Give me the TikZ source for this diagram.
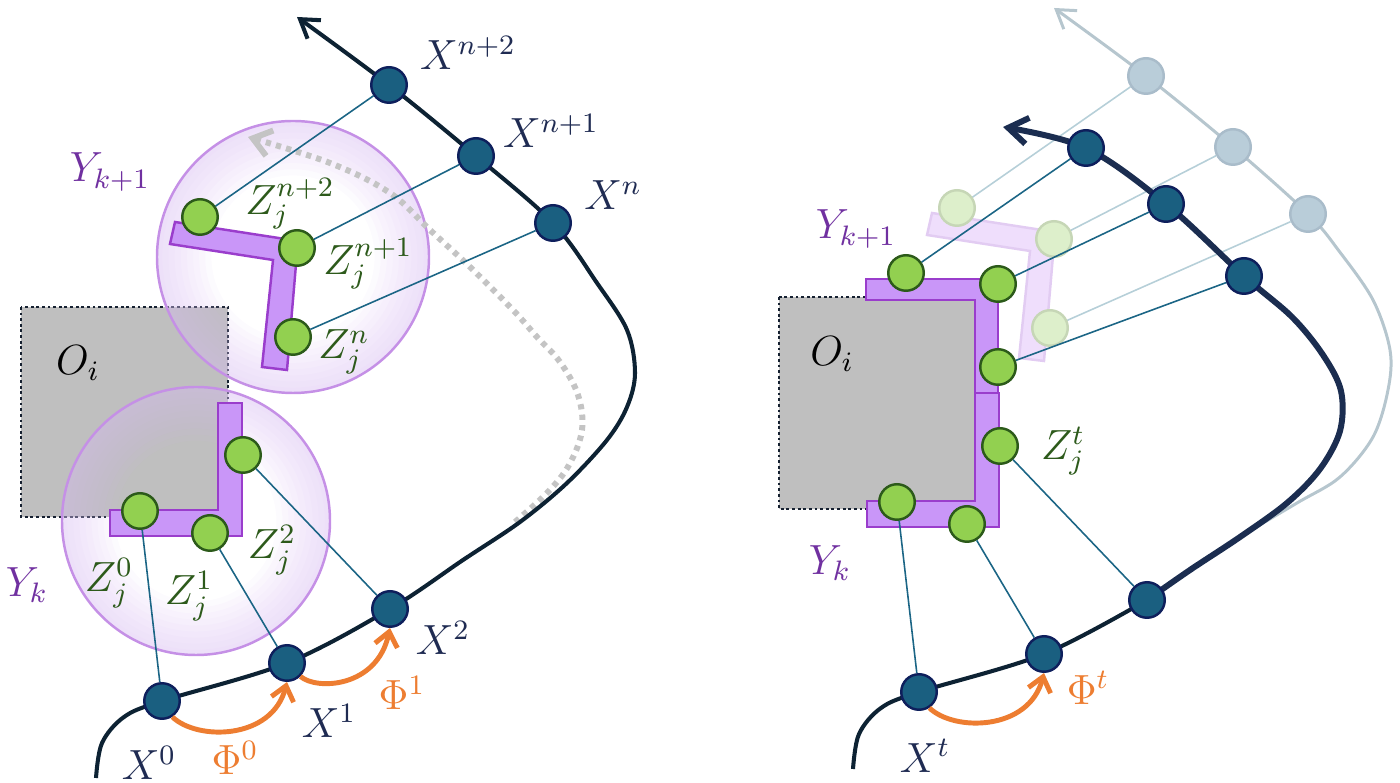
\documentclass[tikz,border=0pt]{standalone}
\usetikzlibrary{arrows.meta}
\definecolor{navy}{HTML}{0E1F5C}
\definecolor{xfill}{HTML}{1A5F80}
\definecolor{curvec}{HTML}{0D2233}
\definecolor{curvecb}{HTML}{1B2D50}
\definecolor{conncol}{HTML}{1B6585}
\definecolor{gfill}{HTML}{92D050}
\definecolor{gdraw}{HTML}{2C5A1A}
\definecolor{lfill}{HTML}{C996F8}
\definecolor{ldraw}{HTML}{9A3DCC}
\definecolor{ringc}{HTML}{C590E6}
\definecolor{ringf}{HTML}{D8BCF2}
\definecolor{obst}{HTML}{BFBFBF}
\definecolor{obstb}{HTML}{152030}
\definecolor{orng}{HTML}{ED7D31}
\definecolor{ylab}{HTML}{7030A0}
\definecolor{zlab}{HTML}{2D5A1B}
\definecolor{xlab}{HTML}{1F2B52}
\definecolor{dotg}{HTML}{C4C4C4}
\definecolor{fcurve}{HTML}{B6C6CE}
\definecolor{fxfill}{HTML}{B9CDD9}
\definecolor{fxdraw}{HTML}{A9BCCA}
\definecolor{fgfill}{HTML}{DDEFCB}
\definecolor{fgdraw}{HTML}{C6D6B6}
\definecolor{flfill}{HTML}{EFDEFC}
\definecolor{fldraw}{HTML}{E2CCF2}
\definecolor{fconn}{HTML}{B6CFD8}
\tikzset{
  xnode/.style={circle, draw=navy, fill=xfill, line width=0.7pt, minimum size=0.355cm, inner sep=0pt},
  gnode/.style={circle, draw=gdraw, fill=gfill, line width=0.7pt, minimum size=0.355cm, inner sep=0pt},
  fxnode/.style={xnode, draw=fxdraw, fill=fxfill},
  fgnode/.style={gnode, draw=fgdraw, fill=fgfill},
  connline/.style={draw=conncol, line width=0.45pt},
  fconnline/.style={draw=fconn, line width=0.45pt},
  traj/.style={draw=curvec, line width=1.15pt},
  trajb/.style={draw=curvecb, line width=1.7pt},
  ftraj/.style={draw=fcurve, line width=0.85pt},
  lshape/.style={fill=lfill, draw=ldraw, line width=0.7pt, line join=miter},
  flshape/.style={fill=flfill, draw=fldraw, line width=0.7pt},
  obstacle/.style={fill=obst, draw=obstb, line width=0.75pt, dash pattern=on 0.8pt off 0.8pt},
  ringlayer/.style={fill=ringf, fill opacity=0.065, even odd rule},
  ringline/.style={draw=ringc, line width=0.7pt},
  phiarr/.style={draw=orng, line width=1.4pt, -{Straight Barb[length=4pt,width=6.5pt]}},
  dotarr/.style={draw=dotg, line width=1.7pt, dash pattern=on 1.5pt off 1.5pt, -{Straight Barb[length=5pt,width=7.5pt]}},
  lbl/.style={font=\fontsize{12}{14}\selectfont, inner sep=0pt},
}
\begin{document}
\begin{tikzpicture}[x=0.01cm,y=-0.01cm]
\useasboundingbox (0,0) rectangle (1400,783);
% ================= LEFT PANEL =================
\coordinate (pX0) at (162,701);
\coordinate (pX1) at (287,663);
\coordinate (pX2) at (390,609);
\coordinate (pXn) at (553,223);
\coordinate (pXna) at (476,156);
\coordinate (pXnb) at (389,85);
\coordinate (tipL) at (297,17);
\coordinate (dottip) at (248,137);
\coordinate (cYa) at (293,257);
\coordinate (cY) at (196,521);
% obstacle
\draw[obstacle] (21,307) rectangle (228,517);
% circles
\foreach \f in {0.60,0.645,0.69,0.735,0.78,0.825,0.87,0.915,0.96,0.99} {
  \fill[ringlayer] (cYa) circle[radius=136] circle[radius=136*\f];
  \fill[ringlayer] (cY) circle[radius=134] circle[radius=134*\f];
}
\draw[ringline] (cYa) circle[radius=136];
\draw[ringline] (cY) circle[radius=134];
% dotted arrow
\draw[dotarr] plot[smooth, tension=0.6] coordinates {(515,522) (547,493) (569,465) (582,430) (578,395) (560,362) (537,337) (513,310) (470,267) (430,230) (390,193) (330,163) (dottip)};
% trajectory
\draw[traj, -{Straight Barb[length=5pt,width=6.5pt]}] plot[smooth, tension=0.55] coordinates {(96,778) (102,743) (124,717) (pX0) (pX1) (pX2) (463,560) (520,522) (567,483) (607,440) (627,407) (635,373) (627,330) (597,283) (pXn) (pXna) (pXnb) (tipL)};
% L shapes
\draw[lshape] (175,222) -- (298,241) -- (287,370) -- (262,367) -- (273,260) -- (170,244) -- cycle;
\draw[lshape] (218,403) -- (242,403) -- (242,536) -- (110,536) -- (110,510) -- (218,510) -- cycle;
% nodes
\node[xnode] (X0) at (pX0) {};
\node[xnode] (X1) at (pX1) {};
\node[xnode] (X2) at (pX2) {};
\node[xnode] (Xn) at (pXn) {};
\node[xnode] (Xna) at (pXna) {};
\node[xnode] (Xnb) at (pXnb) {};
\node[gnode] (Z0) at (140,511) {};
\node[gnode] (Z1) at (210,533) {};
\node[gnode] (Z2) at (243,455) {};
\node[gnode] (Zn) at (293,337) {};
\node[gnode] (Zna) at (297,248) {};
\node[gnode] (Znb) at (200,217) {};
% connectors
\draw[connline] (X0) -- (Z0);
\draw[connline] (X1) -- (Z1);
\draw[connline] (X2) -- (Z2);
\draw[connline] (Xn) -- (Zn);
\draw[connline] (Xna) -- (Zna);
\draw[connline] (Xnb) -- (Znb);
% transitions
\draw[phiarr] (X0.-57) .. controls +(25,24) and +(-15,58) .. (X1.-90);
\draw[phiarr] (X1.-45) .. controls +(16,14) and +(-13,60) .. (X2.-90);
% labels
\node[lbl, text=xlab] (lXnb) at (468,53) {$X^{n+2}$};
\node[lbl, text=xlab] (lXna) at (551,131) {$X^{n+1}$};
\node[lbl, text=xlab] (lXn) at (613,195) {$X^{n}$};
\node[lbl, text=zlab] (lZnb) at (290,204) {$Z_j^{n+2}$};
\node[lbl, text=zlab] (lZna) at (368,264) {$Z_j^{n+1}$};
\node[lbl, text=zlab] (lZn) at (344,352) {$Z_j^{n}$};
\node[lbl, text=ylab] (lYa) at (110,172) {$Y_{k+1}$};
\node[lbl] (lO) at (78,363) {$O_i$};
\node[lbl, text=ylab] (lY) at (27,585) {$Y_k$};
\node[lbl, text=zlab] (lZ0) at (109,583) {$Z_j^{0}$};
\node[lbl, text=zlab] (lZ1) at (189,596) {$Z_j^{1}$};
\node[lbl, text=zlab] (lZ2) at (272,550) {$Z_j^{2}$};
\node[lbl, text=xlab] (lX2) at (443,638) {$X^{2}$};
\node[lbl, text=orng] (lP1) at (402,693) {$\Phi^{1}$};
\node[lbl, text=xlab] (lX1) at (329,721) {$X^{1}$};
\node[lbl, text=orng] (lP0) at (235,758) {$\Phi^{0}$};
\node[lbl, text=xlab] (lX0) at (149,763) {$X^{0}$};
% ================= RIGHT PANEL =================
\begin{scope}[shift={(757,-9)}]
\coordinate (qX0) at (162,701);
\coordinate (qX1) at (287,663);
\coordinate (qX2) at (390,609);
\coordinate (qA3) at (487,285);
\coordinate (qA2) at (409,213);
\coordinate (qA1) at (329,157);
\coordinate (tipR) at (246,136);
\coordinate (fXnp) at (551,223);
\coordinate (fXnap) at (476,156);
\coordinate (fXnbp) at (389,85);
\coordinate (tipF) at (297,17);
% faded (previous) trajectory
\draw[ftraj, -{Straight Barb[length=5pt,width=6.5pt]}] plot[smooth, tension=0.55] coordinates {(qX2) (433,579) (483,546) (540,512) (583,486) (616,446) (631,399) (633,359) (616,309) (582,260) (fXnp) (fXnap) (fXnbp) (tipF)};
\node[fxnode] (fXn) at (fXnp) {};
\node[fxnode] (fXna) at (fXnap) {};
\node[fxnode] (fXnb) at (fXnbp) {};
\coordinate (fZnp) at (293,337);
\coordinate (fZnap) at (297,248);
\coordinate (fZnbp) at (200,217);
\draw[fconnline] (fXn) -- (fZnp);
\draw[fconnline] (fXna) -- (fZnap);
\draw[fconnline] (fXnb) -- (fZnbp);
\draw[flshape] (175,222) -- (298,241) -- (287,370) -- (262,367) -- (273,260) -- (170,244) -- cycle;
\node[fgnode] (fZn) at (fZnp) {};
\node[fgnode] (fZna) at (fZnap) {};
\node[fgnode] (fZnb) at (fZnbp) {};
% obstacle
\draw[obstacle] (22,306) rectangle (222,518);
% L shapes
\draw[lshape] (109,288) -- (241,288) -- (241,402) -- (218,402) -- (218,309) -- (109,309) -- cycle;
\draw[lshape] (218,402) -- (242,402) -- (242,536) -- (110,536) -- (110,510) -- (218,510) -- cycle;
% trajectory
\draw[traj] plot[smooth, tension=0.55] coordinates {(96,778) (102,743) (124,717) (qX0) (qX1) (qX2)};
\draw[trajb, -{Straight Barb[length=5.5pt,width=7.5pt]}] plot[smooth, tension=0.55] coordinates {(qX2) (433,579) (483,546) (530,512) (563,478) (583,440) (584,400) (566,364) (535,326) (qA3) (qA2) (qA1) (tipR)};
% nodes
\node[xnode] (rX0) at (qX0) {};
\node[xnode] (rX1) at (qX1) {};
\node[xnode] (rX2) at (qX2) {};
\node[xnode] (rA3) at (qA3) {};
\node[xnode] (rA2) at (qA2) {};
\node[xnode] (rA1) at (qA1) {};
\node[gnode] (rZ0) at (140,511) {};
\node[gnode] (rZ1) at (210,533) {};
\node[gnode] (rZ2) at (243,455) {};
\node[gnode] (rZa) at (241,376) {};
\node[gnode] (rZb) at (241,293) {};
\node[gnode] (rZc) at (149,282) {};
\draw[connline] (rX0) -- (rZ0);
\draw[connline] (rX1) -- (rZ1);
\draw[connline] (rX2) -- (rZ2);
\draw[connline] (rA3) -- (rZa);
\draw[connline] (rA2) -- (rZb);
\draw[connline] (rA1) -- (rZc);
\draw[phiarr] (rX0.-57) .. controls +(25,24) and +(-15,58) .. (rX1.-90);
\end{scope}
% right labels
\node[lbl, text=ylab] (rlYa) at (856,229) {$Y_{k+1}$};
\node[lbl] (rlO) at (832,354) {$O_i$};
\node[lbl, text=zlab] (rlZ) at (1063,451) {$Z_j^{t}$};
\node[lbl, text=ylab] (rlY) at (830,563) {$Y_k$};
\node[lbl, text=orng] (rlP) at (1088,688) {$\Phi^{t}$};
\node[lbl, text=xlab] (rlX) at (925,756) {$X^{t}$};
\end{tikzpicture}
\end{document}
